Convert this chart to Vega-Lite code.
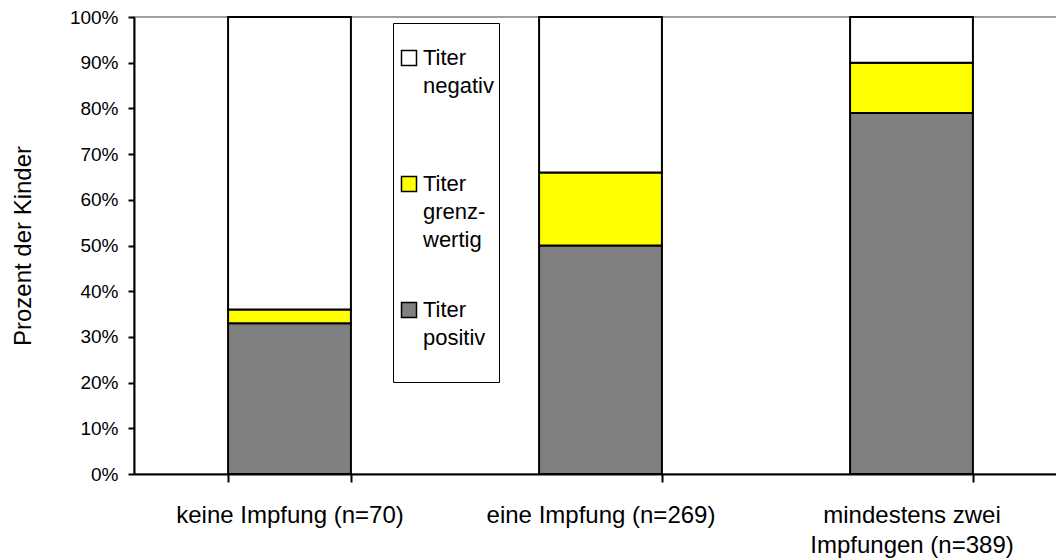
{
  "$schema": "https://vega.github.io/schema/vega-lite/v6.json",
  "width": 933,
  "height": 457,
  "autosize": {"type": "none"},
  "padding": {"left": 134, "top": 17, "right": 0, "bottom": 86},
  "background": "white",
  "config": {
    "font": "Liberation Sans",
    "view": {"stroke": "#808080", "strokeWidth": 1.5},
    "style": {"guide-label": {"lineHeight": 28}}
  },
  "data": {
    "values": [
      {"gruppe": "keine Impfung (n=70)", "titer": "Titer positiv", "anteil": 0.33, "rang": 1},
      {"gruppe": "keine Impfung (n=70)", "titer": "Titer grenzwertig", "anteil": 0.03, "rang": 2},
      {"gruppe": "keine Impfung (n=70)", "titer": "Titer negativ", "anteil": 0.64, "rang": 3},
      {"gruppe": "eine Impfung (n=269)", "titer": "Titer positiv", "anteil": 0.50, "rang": 1},
      {"gruppe": "eine Impfung (n=269)", "titer": "Titer grenzwertig", "anteil": 0.16, "rang": 2},
      {"gruppe": "eine Impfung (n=269)", "titer": "Titer negativ", "anteil": 0.34, "rang": 3},
      {"gruppe": "mindestens zwei Impfungen (n=389)", "titer": "Titer positiv", "anteil": 0.79, "rang": 1},
      {"gruppe": "mindestens zwei Impfungen (n=389)", "titer": "Titer grenzwertig", "anteil": 0.11, "rang": 2},
      {"gruppe": "mindestens zwei Impfungen (n=389)", "titer": "Titer negativ", "anteil": 0.10, "rang": 3}
    ]
  },
  "mark": {"type": "bar", "stroke": "black", "strokeWidth": 2},
  "encoding": {
    "x": {
      "field": "gruppe",
      "type": "nominal",
      "sort": null,
      "scale": {"paddingInner": 0.605, "paddingOuter": 0.3025},
      "axis": {
        "title": null,
        "labelAngle": 0,
        "labelFontSize": 24,
        "labelColor": "black",
        "labelBaseline": "middle",
        "labelPadding": 33,
        "labelLineHeight": 30,
        "labelLimit": 400,
        "labelExpr": "datum.label == 'mindestens zwei Impfungen (n=389)' ? ['mindestens zwei', 'Impfungen (n=389)'] : datum.label",
        "tickBand": "extent",
        "tickSize": 8,
        "tickColor": "black",
        "tickWidth": 2,
        "domainColor": "black",
        "domainWidth": 2
      }
    },
    "y": {
      "field": "anteil",
      "type": "quantitative",
      "stack": "zero",
      "scale": {"domain": [0, 1]},
      "axis": {
        "title": "Prozent der Kinder",
        "format": ".0%",
        "values": [0, 0.1, 0.2, 0.3, 0.4, 0.5, 0.6, 0.7, 0.8, 0.9, 1],
        "grid": false,
        "labelFontSize": 19,
        "labelColor": "black",
        "labelPadding": 10,
        "tickSize": 6,
        "tickColor": "black",
        "tickWidth": 2,
        "domainColor": "black",
        "domainWidth": 2,
        "titleFontSize": 24,
        "titleFontWeight": "normal",
        "titleColor": "black",
        "titlePadding": 34
      }
    },
    "color": {
      "field": "titer",
      "type": "nominal",
      "scale": {
        "domain": ["Titer negativ", "Titer grenzwertig", "Titer positiv"],
        "range": ["#ffffff", "#ffff00", "#808080"]
      },
      "legend": {
        "orient": "none",
        "legendX": 259,
        "legendY": 6,
        "title": " ",
        "titleFontSize": 10,
        "titlePadding": 9,
        "padding": 5,
        "strokeColor": "black",
        "fillColor": "white",
        "symbolType": "square",
        "symbolSize": 225,
        "symbolStrokeColor": "black",
        "symbolStrokeWidth": 1.5,
        "symbolOpacity": 1,
        "labelFontSize": 22,
        "labelColor": "black",
        "labelBaseline": "middle",
        "labelOffset": 3,
        "labelLimit": 200,
        "rowPadding": 48,
        "labelExpr": "datum.label == 'Titer grenzwertig' ? ['Titer', 'grenz-', 'wertig'] : [split(datum.label, ' ')[0], split(datum.label, ' ')[1], '']"
      }
    },
    "order": {"field": "rang", "type": "quantitative"}
  }
}
